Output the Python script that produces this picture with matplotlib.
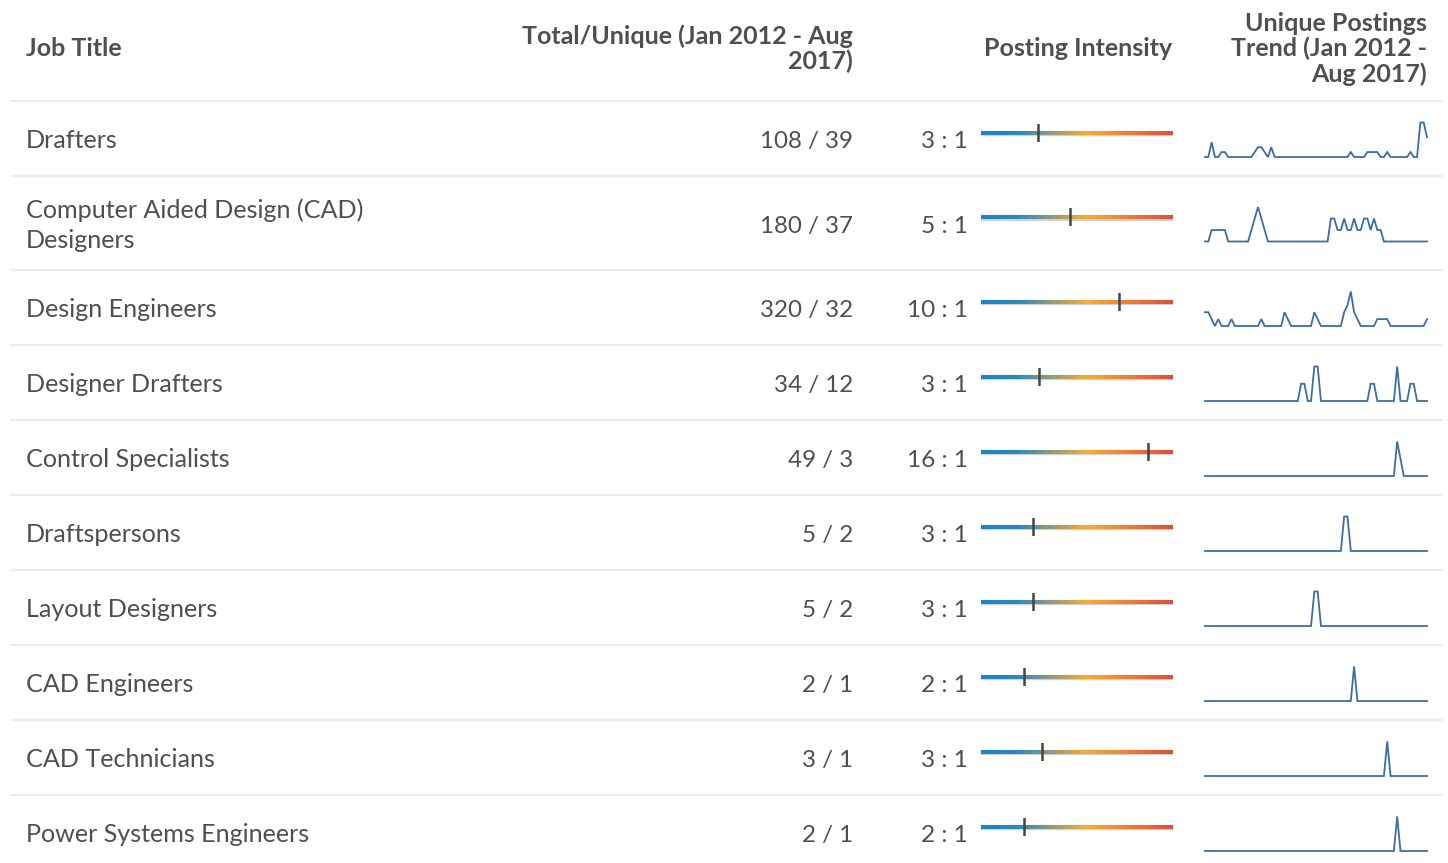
import numpy as np
import matplotlib.pyplot as plt
from matplotlib.colors import LinearSegmentedColormap

plt.rcParams['font.family'] = ['Lato', 'DejaVu Sans']

# table data
job_titles = [
    "Drafters",
    "Computer Aided Design (CAD)\nDesigners",
    "Design Engineers",
    "Designer Drafters",
    "Control Specialists",
    "Draftspersons",
    "Layout Designers",
    "CAD Engineers",
    "CAD Technicians",
    "Power Systems Engineers",
]
total_postings = [108, 180, 320, 34, 49, 5, 5, 2, 3, 2]
unique_postings = [39, 37, 32, 12, 3, 2, 2, 1, 1, 1]
intensity_labels = ["3 : 1", "5 : 1", "10 : 1", "3 : 1", "16 : 1",
                    "3 : 1", "3 : 1", "2 : 1", "3 : 1", "2 : 1"]
# marker position along the intensity bar (0 = left, 1 = right)
intensity_pos = [0.298, 0.461, 0.717, 0.304, 0.869, 0.272, 0.272, 0.225, 0.319, 0.225]

# monthly unique postings, Jan 2012 - Aug 2017 (68 months)
trend_drafters = [
    0, 0, 3, 0, 0, 1, 1, 0, 0, 0, 0, 0, 0, 0, 0, 1, 2,
    2, 1, 0, 2, 0, 0, 0, 0, 0, 0, 0, 0, 0, 0, 0, 0, 0,
    0, 0, 0, 0, 0, 0, 0, 0, 0, 0, 1, 0, 0, 0, 0, 1, 1,
    1, 1, 0, 0, 1, 0, 0, 0, 0, 0, 0, 1, 0, 0, 7, 7, 4,
]
trend_cad_designers = [
    0, 0, 1, 1, 1, 1, 1, 0, 0, 0, 0, 0, 0, 0, 1, 2, 3,
    2, 1, 0, 0, 0, 0, 0, 0, 0, 0, 0, 0, 0, 0, 0, 0, 0,
    0, 0, 0, 0, 2, 2, 1, 1, 2, 1, 1, 2, 1, 1, 2, 2, 1,
    2, 1, 1, 0, 0, 0, 0, 0, 0, 0, 0, 0, 0, 0, 0, 0, 0,
]
trend_design_engineers = [
    2, 2, 1, 0, 1, 0, 0, 0, 1, 0, 0, 0, 0, 0, 0, 0, 0,
    1, 0, 0, 0, 0, 0, 0, 2, 1, 0, 0, 0, 0, 0, 0, 0, 2,
    1, 0, 0, 0, 0, 0, 0, 0, 2, 3, 5, 2, 1, 0, 0, 0, 0,
    0, 1, 1, 1, 1, 0, 0, 0, 0, 0, 0, 0, 0, 0, 0, 0, 1,
]
trend_designer_drafters = [
    0, 0, 0, 0, 0, 0, 0, 0, 0, 0, 0, 0, 0, 0, 0, 0, 0,
    0, 0, 0, 0, 0, 0, 0, 0, 0, 0, 0, 0, 1, 1, 0, 0, 2,
    2, 0, 0, 0, 0, 0, 0, 0, 0, 0, 0, 0, 0, 0, 0, 0, 1,
    1, 0, 0, 0, 0, 0, 0, 2, 0, 0, 0, 1, 1, 0, 0, 0, 0,
]
trend_control_specialists = [
    0, 0, 0, 0, 0, 0, 0, 0, 0, 0, 0, 0, 0, 0, 0, 0, 0,
    0, 0, 0, 0, 0, 0, 0, 0, 0, 0, 0, 0, 0, 0, 0, 0, 0,
    0, 0, 0, 0, 0, 0, 0, 0, 0, 0, 0, 0, 0, 0, 0, 0, 0,
    0, 0, 0, 0, 0, 0, 0, 2, 1, 0, 0, 0, 0, 0, 0, 0, 0,
]
trend_draftspersons = [
    0, 0, 0, 0, 0, 0, 0, 0, 0, 0, 0, 0, 0, 0, 0, 0, 0,
    0, 0, 0, 0, 0, 0, 0, 0, 0, 0, 0, 0, 0, 0, 0, 0, 0,
    0, 0, 0, 0, 0, 0, 0, 0, 1, 1, 0, 0, 0, 0, 0, 0, 0,
    0, 0, 0, 0, 0, 0, 0, 0, 0, 0, 0, 0, 0, 0, 0, 0, 0,
]
trend_layout_designers = [
    0, 0, 0, 0, 0, 0, 0, 0, 0, 0, 0, 0, 0, 0, 0, 0, 0,
    0, 0, 0, 0, 0, 0, 0, 0, 0, 0, 0, 0, 0, 0, 0, 0, 1,
    1, 0, 0, 0, 0, 0, 0, 0, 0, 0, 0, 0, 0, 0, 0, 0, 0,
    0, 0, 0, 0, 0, 0, 0, 0, 0, 0, 0, 0, 0, 0, 0, 0, 0,
]
trend_cad_engineers = [
    0, 0, 0, 0, 0, 0, 0, 0, 0, 0, 0, 0, 0, 0, 0, 0, 0,
    0, 0, 0, 0, 0, 0, 0, 0, 0, 0, 0, 0, 0, 0, 0, 0, 0,
    0, 0, 0, 0, 0, 0, 0, 0, 0, 0, 0, 1, 0, 0, 0, 0, 0,
    0, 0, 0, 0, 0, 0, 0, 0, 0, 0, 0, 0, 0, 0, 0, 0, 0,
]
trend_cad_technicians = [
    0, 0, 0, 0, 0, 0, 0, 0, 0, 0, 0, 0, 0, 0, 0, 0, 0,
    0, 0, 0, 0, 0, 0, 0, 0, 0, 0, 0, 0, 0, 0, 0, 0, 0,
    0, 0, 0, 0, 0, 0, 0, 0, 0, 0, 0, 0, 0, 0, 0, 0, 0,
    0, 0, 0, 0, 1, 0, 0, 0, 0, 0, 0, 0, 0, 0, 0, 0, 0,
]
trend_power_systems = [
    0, 0, 0, 0, 0, 0, 0, 0, 0, 0, 0, 0, 0, 0, 0, 0, 0,
    0, 0, 0, 0, 0, 0, 0, 0, 0, 0, 0, 0, 0, 0, 0, 0, 0,
    0, 0, 0, 0, 0, 0, 0, 0, 0, 0, 0, 0, 0, 0, 0, 0, 0,
    0, 0, 0, 0, 0, 0, 0, 1, 0, 0, 0, 0, 0, 0, 0, 0, 0,
]
trends = [trend_drafters, trend_cad_designers, trend_design_engineers,
          trend_designer_drafters, trend_control_specialists, trend_draftspersons,
          trend_layout_designers, trend_cad_engineers, trend_cad_technicians,
          trend_power_systems]

headers = [
    ("Job Title", 26, "left"),
    ("Total/Unique (Jan 2012 - Aug\n2017)", 853, "right"),
    ("Posting Intensity", 1172, "right"),
    ("Unique Postings\nTrend (Jan 2012 -\nAug 2017)", 1427, "right"),
]

W, H = 1448, 863
text_color = "#4f4f4f"
rule_color = "#ebebeb"
spark_color = "#3a6ea5"
cmap = LinearSegmentedColormap.from_list(
    "intensity", [(0, "#1786c9"), (0.18, "#2a88bd"), (0.55, "#f6ae34"), (1, "#df4d3b")])

fig = plt.figure(figsize=(W / 100, H / 100), dpi=100)
bg = fig.add_axes([0, 0, 1, 1])
bg.set_xlim(0, W)
bg.set_ylim(H, 0)
bg.axis("off")


def px_axes(x, y, w, h):
    # axes placed in pixel coords (top-left origin)
    return fig.add_axes([x / W, 1 - (y + h) / H, w / W, h / H])


# header
header_mid = 49
for label, x, ha in headers:
    lines = label.split("\n")
    first = header_mid + 7.5 - (len(lines) - 1) * 25.5 / 2
    for i, line in enumerate(lines):
        bg.text(x, first + i * 25.5, line, ha=ha, va="baseline", fontsize=18,
                fontweight="bold", color=text_color)
bg.plot([10, 1443], [101, 101], color=rule_color, lw=1.6, solid_capstyle="butt")

# rows
top = 101
for i, title in enumerate(job_titles):
    lines = title.split("\n")
    row_h = 75 if len(lines) == 1 else 94
    mid = top + row_h / 2
    base = mid + 9.8

    first = base - (len(lines) - 1) * 15
    for j, line in enumerate(lines):
        bg.text(26, first + j * 30, line, ha="left", va="baseline", fontsize=18.1,
                color=text_color)
    bg.text(853, base, f"{total_postings[i]} / {unique_postings[i]}", ha="right",
            va="baseline", fontsize=17.4, color=text_color)
    bg.text(968, base, intensity_labels[i], ha="right", va="baseline", fontsize=17.6,
            color=text_color)

    # intensity bar
    ax = px_axes(981, mid - 5.5 - 9, 192, 18)
    ax.set_xlim(0, 1)
    ax.set_ylim(-1, 1)
    ax.axis("off")
    ax.axhspan(-0.27, 0.27, color="#d2d2d2", zorder=0)
    ax.imshow(np.linspace(0, 1, 256)[None, :], cmap=cmap, aspect="auto",
              extent=[0, 1, -0.21, 0.21], zorder=1)
    ax.axvline(intensity_pos[i], color="#454545", lw=1.8, zorder=3)

    # sparkline
    sp = px_axes(1205, mid - 16, 222, 34.5)
    sp.plot(np.arange(len(trends[i])), trends[i], color=spark_color, lw=1.3,
            clip_on=False, solid_joinstyle="miter")
    sp.set_xlim(0, len(trends[i]) - 1)
    sp.set_ylim(0, max(trends[i]))
    sp.axis("off")

    top += row_h
    if top < H:
        bg.plot([10, 1443], [top, top], color=rule_color, lw=1.6, solid_capstyle="butt")

fig.savefig("out.png", dpi=100, facecolor="white")
